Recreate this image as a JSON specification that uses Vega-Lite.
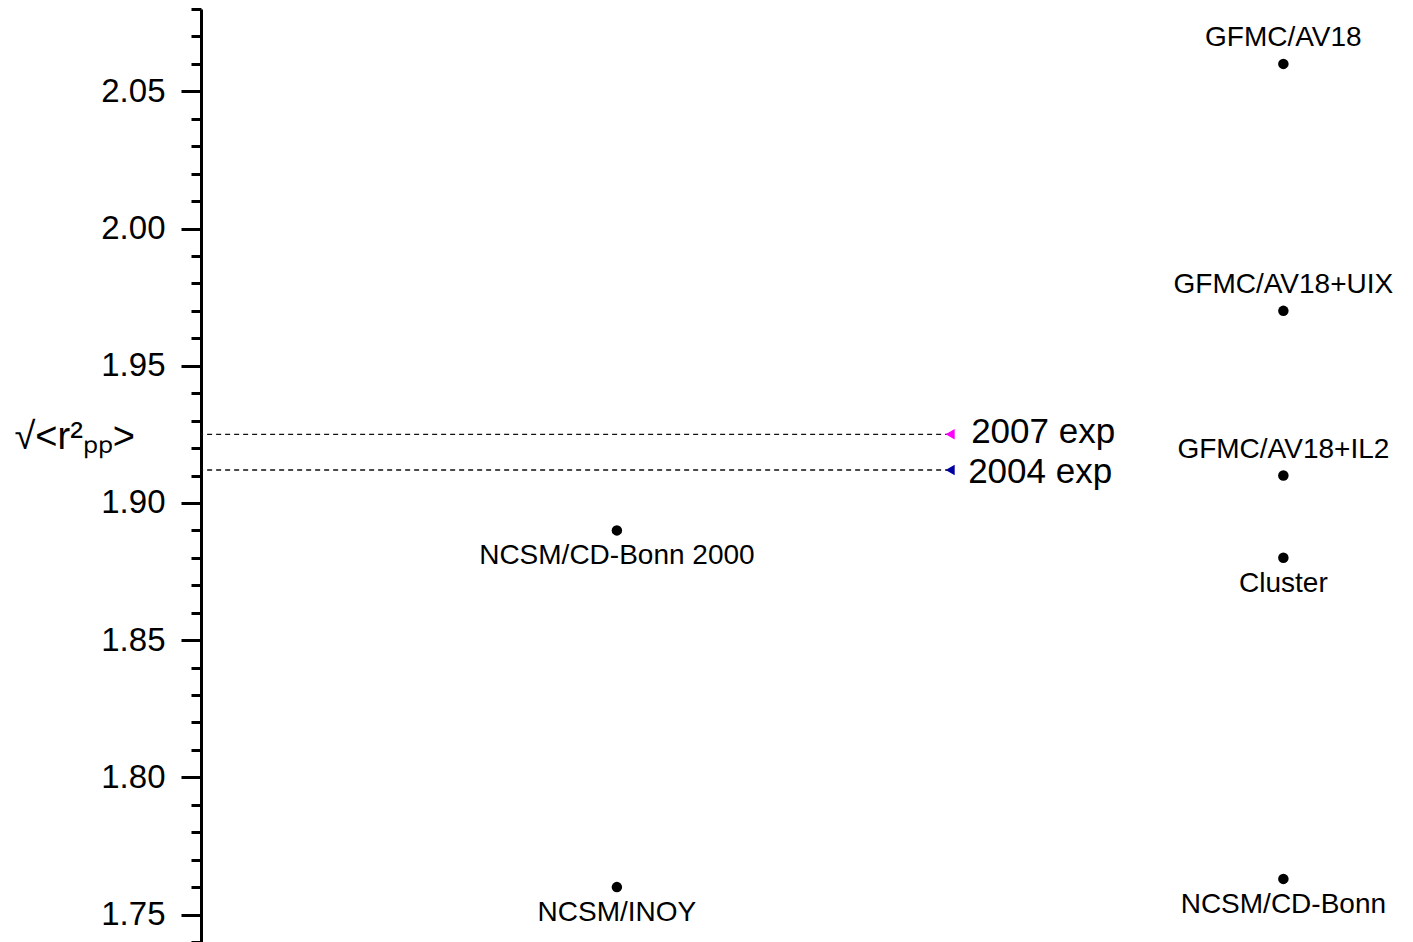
{
  "$schema": "https://vega.github.io/schema/vega-lite/v6.json",
  "width": 1211,
  "height": 933,
  "autosize": {"type": "none"},
  "padding": {"left": 201, "top": 9, "right": 1, "bottom": 0},
  "background": "white",
  "config": {"view": {"stroke": null}, "font": "Liberation Sans"},
  "datasets": {
    "models": [
      {"model": "GFMC/AV18", "pos": 2, "r": 2.06, "side": "above"},
      {"model": "GFMC/AV18+UIX", "pos": 2, "r": 1.97, "side": "above"},
      {"model": "GFMC/AV18+IL2", "pos": 2, "r": 1.91, "side": "above"},
      {"model": "Cluster", "pos": 2, "r": 1.88, "side": "below"},
      {"model": "NCSM/CD-Bonn", "pos": 2, "r": 1.763, "side": "below"},
      {"model": "NCSM/CD-Bonn 2000", "pos": 1, "r": 1.89, "side": "below"},
      {"model": "NCSM/INOY", "pos": 1, "r": 1.76, "side": "below"}
    ],
    "experiments": [
      {"label": "2007 exp", "pos": 1.5, "r": 1.925},
      {"label": "2004 exp", "pos": 1.5, "r": 1.912}
    ]
  },
  "layer": [
    {
      "data": {"name": "experiments"},
      "mark": {"type": "rule", "strokeDash": [5, 4], "strokeWidth": 1.4, "color": "#111111"},
      "encoding": {
        "x": {"field": "pos", "type": "quantitative", "scale": {"domain": [0.376, 2.193], "nice": false, "zero": false}, "axis": null},
        "x2": {"value": 0},
        "y": {
          "field": "r", "type": "quantitative",
          "scale": {"domain": [1.74, 2.08], "nice": false, "zero": false},
          "axis": {
            "orient": "left",
            "values": [1.74, 1.76, 1.77, 1.78, 1.79, 1.81, 1.82, 1.83, 1.84, 1.86, 1.87, 1.88, 1.89, 1.91, 1.92, 1.93, 1.94, 1.96, 1.97, 1.98, 1.99, 2.01, 2.02, 2.03, 2.04, 2.06, 2.07, 2.08],
            "labels": false, "domain": false, "grid": false, "title": null,
            "tickSize": 10, "tickWidth": 3, "tickColor": "black"
          }
        }
      }
    },
    {
      "data": {"name": "experiments"},
      "mark": {"type": "point", "shape": "triangle-left", "filled": true, "size": 110, "opacity": 1},
      "encoding": {
        "x": {"field": "pos", "type": "quantitative", "scale": {"domain": [0.376, 2.193], "nice": false, "zero": false}, "axis": null},
        "y": {"field": "r", "type": "quantitative", "axis": null},
        "color": {"field": "label", "type": "nominal", "scale": {"domain": ["2007 exp", "2004 exp"], "range": ["#ff00ff", "#0000a0"]}, "legend": null}
      }
    },
    {
      "data": {"name": "experiments"},
      "transform": [{"filter": "datum.label === '2007 exp'"}],
      "mark": {"type": "text", "align": "left", "baseline": "middle", "dx": 21, "dy": -2, "fontSize": 35, "color": "black"},
      "encoding": {
        "x": {"field": "pos", "type": "quantitative", "axis": null},
        "y": {"field": "r", "type": "quantitative", "axis": null},
        "text": {"field": "label"}
      }
    },
    {
      "data": {"name": "experiments"},
      "transform": [{"filter": "datum.label === '2004 exp'"}],
      "mark": {"type": "text", "align": "left", "baseline": "middle", "dx": 18, "dy": 2, "fontSize": 35, "color": "black"},
      "encoding": {
        "x": {"field": "pos", "type": "quantitative", "axis": null},
        "y": {"field": "r", "type": "quantitative", "axis": null},
        "text": {"field": "label"}
      }
    },
    {
      "data": {"name": "models"},
      "mark": {"type": "circle", "size": 110, "color": "black", "opacity": 1},
      "encoding": {
        "x": {"field": "pos", "type": "quantitative", "axis": null},
        "y": {
          "field": "r", "type": "quantitative",
          "axis": {
            "orient": "left",
            "values": [1.75, 1.8, 1.85, 1.9, 1.95, 2.0, 2.05],
            "format": ".2f",
            "grid": false,
            "labelOverlap": false,
            "labelFont": "Liberation Sans", "labelFontSize": 33, "labelColor": "black", "labelPadding": 16,
            "tickSize": 20, "tickWidth": 3, "tickColor": "black",
            "domainWidth": 3, "domainColor": "black",
            "title": "√<r²ₚₚ>",
            "titleAngle": 0, "titleAlign": "left", "titleBaseline": "middle",
            "titleX": -187, "titleY": 428,
            "titleFont": "Liberation Sans", "titleFontSize": 38, "titleFontWeight": "normal", "titleColor": "black"
          }
        }
      }
    },
    {
      "data": {"name": "models"},
      "transform": [{"filter": "datum.side === 'above'"}],
      "mark": {"type": "text", "align": "center", "baseline": "alphabetic", "dy": -18, "fontSize": 28, "color": "black"},
      "encoding": {
        "x": {"field": "pos", "type": "quantitative", "axis": null},
        "y": {"field": "r", "type": "quantitative", "axis": null},
        "text": {"field": "model"}
      }
    },
    {
      "data": {"name": "models"},
      "transform": [{"filter": "datum.side === 'below'"}],
      "mark": {"type": "text", "align": "center", "baseline": "alphabetic", "dy": 34, "fontSize": 28, "color": "black"},
      "encoding": {
        "x": {"field": "pos", "type": "quantitative", "axis": null},
        "y": {"field": "r", "type": "quantitative", "axis": null},
        "text": {"field": "model"}
      }
    }
  ],
  "resolve": {"axis": {"y": "independent"}}
}
